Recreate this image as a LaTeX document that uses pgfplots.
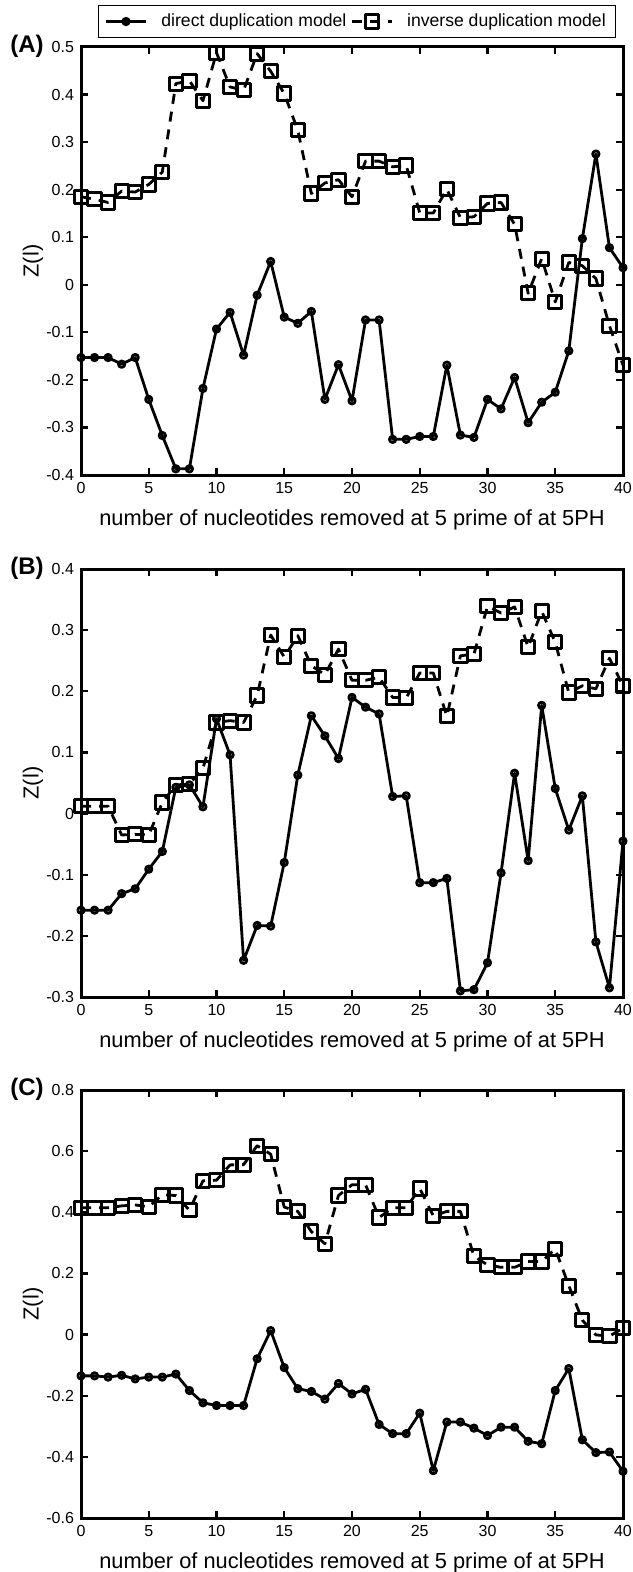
\documentclass[border=0pt]{standalone}
\usepackage{fontspec}
\setmainfont{Liberation Sans}
\usepackage{pgfplots}
\usepackage{pgfplotstable}
\pgfplotsset{compat=1.18}

% panel A
\pgfplotstableread{
x d i
0 -0.153 0.185
1 -0.153 0.180
2 -0.153 0.173
3 -0.167 0.197
4 -0.153 0.195
5 -0.241 0.211
6 -0.317 0.237
7 -0.387 0.423
8 -0.387 0.429
9 -0.218 0.387
10 -0.093 0.488
11 -0.058 0.416
12 -0.148 0.409
13 -0.022 0.486
14 0.049 0.449
15 -0.068 0.402
16 -0.081 0.325
17 -0.056 0.192
18 -0.241 0.214
19 -0.168 0.221
20 -0.244 0.185
21 -0.074 0.260
22 -0.074 0.260
23 -0.325 0.248
24 -0.325 0.251
25 -0.319 0.151
26 -0.319 0.151
27 -0.169 0.201
28 -0.316 0.141
29 -0.321 0.143
30 -0.241 0.171
31 -0.261 0.173
32 -0.195 0.127
33 -0.290 -0.018
34 -0.247 0.055
35 -0.226 -0.036
36 -0.139 0.047
37 0.097 0.040
38 0.275 0.013
39 0.078 -0.086
40 0.036 -0.169
}\tabA

% panel B
\pgfplotstableread{
x d i
0 -0.158 0.012
1 -0.158 0.012
2 -0.158 0.012
3 -0.131 -0.035
4 -0.123 -0.034
5 -0.091 -0.035
6 -0.062 0.018
7 0.043 0.047
8 0.047 0.048
9 0.011 0.074
10 0.155 0.149
11 0.096 0.152
12 -0.240 0.149
13 -0.183 0.193
14 -0.184 0.292
15 -0.080 0.256
16 0.063 0.291
17 0.160 0.242
18 0.127 0.227
19 0.090 0.269
20 0.190 0.218
21 0.174 0.218
22 0.163 0.223
23 0.028 0.190
24 0.029 0.189
25 -0.113 0.230
26 -0.113 0.230
27 -0.106 0.159
28 -0.290 0.258
29 -0.288 0.261
30 -0.244 0.339
31 -0.097 0.328
32 0.066 0.338
33 -0.077 0.272
34 0.177 0.331
35 0.041 0.280
36 -0.027 0.198
37 0.029 0.209
38 -0.210 0.204
39 -0.285 0.254
40 -0.045 0.209
}\tabB

% panel C
\pgfplotstableread{
x d i
0 -0.135 0.415
1 -0.135 0.415
2 -0.139 0.415
3 -0.133 0.421
4 -0.145 0.424
5 -0.139 0.418
6 -0.139 0.457
7 -0.129 0.455
8 -0.183 0.407
9 -0.223 0.503
10 -0.232 0.505
11 -0.232 0.555
12 -0.232 0.556
13 -0.079 0.618
14 0.013 0.590
15 -0.108 0.417
16 -0.177 0.403
17 -0.186 0.337
18 -0.211 0.297
19 -0.160 0.455
20 -0.194 0.490
21 -0.179 0.490
22 -0.294 0.383
23 -0.324 0.415
24 -0.324 0.415
25 -0.257 0.478
26 -0.445 0.388
27 -0.286 0.403
28 -0.286 0.403
29 -0.306 0.256
30 -0.330 0.228
31 -0.303 0.220
32 -0.303 0.220
33 -0.349 0.239
34 -0.357 0.239
35 -0.183 0.280
36 -0.111 0.160
37 -0.344 0.047
38 -0.386 -0.001
39 -0.384 -0.005
40 -0.447 0.021
}\tabC

\pgfplotsset{
  panel/.style={
    scale only axis, width=271pt, height=214pt, anchor=north west,
    xmin=0, xmax=40, xtick={0,5,...,40},
    tick align=inside, major tick length=3.3pt,
    every tick/.style={black, line width=1.1pt},
    axis line style={line width=1.5pt},
    tick label style={font=\fontsize{8}{9.6}\selectfont},
    /pgf/number format/assume math mode=true,
    label style={font=\fontsize{10.9}{13}\selectfont},
    xlabel={number of nucleotides removed at 5 prime of at 5PH},
    ylabel={Z(l)},
    xlabel style={at={(axis description cs:0.5,-0.1051)}, anchor=center},
    ylabel style={at={(axis description cs:-0.0886,0.5)}, anchor=center},
    legend image code/.code={\draw[mark repeat=2,mark phase=2,##1] plot coordinates {(0pt,0pt) (10pt,0pt) (20pt,0pt)};},
  },
  direct/.style={black, line width=1.4pt, line join=round, mark=o, mark size=1.6pt, mark options={solid, line width=1.4pt}},
  inverse/.style={black, line width=1.4pt, line join=round, dash pattern=on 5pt off 4pt, mark=square, mark size=3.3pt, mark options={solid, line width=1.5pt}},
}

\begin{document}
\begin{tikzpicture}
\useasboundingbox (0,0) rectangle (316pt,-786pt);

\begin{axis}[panel, at={(40.5pt,-23.5pt)},
    ymin=-0.4, ymax=0.5, ytick={-0.4,-0.3,-0.2,-0.1,0,0.1,0.2,0.3,0.4,0.5},
    legend columns=2,
    legend style={at={(axis description cs:0.0314,1)}, anchor=south west, yshift=4.5pt,
      draw=black, line width=0.6pt, font=\fontsize{8.8}{10}\selectfont,
      /tikz/every odd column/.append style={column sep=5pt}},
]
\addplot[direct] table[x=x, y=d] {\tabA};
\addplot[inverse] table[x=x, y=i] {\tabA};
\legend{direct duplication model, inverse duplication model}
\end{axis}

\begin{axis}[panel, at={(40.5pt,-284.5pt)},
    ymin=-0.3, ymax=0.4, ytick={-0.3,-0.2,-0.1,0,0.1,0.2,0.3,0.4},
]
\addplot[direct] table[x=x, y=d] {\tabB};
\addplot[inverse] table[x=x, y=i] {\tabB};
\end{axis}

\begin{axis}[panel, at={(40.5pt,-545pt)},
    ymin=-0.6, ymax=0.8, ytick={-0.6,-0.4,-0.2,0,0.2,0.4,0.6,0.8},
]
\addplot[direct] table[x=x, y=d] {\tabC};
\addplot[inverse] table[x=x, y=i] {\tabC};
\end{axis}

\begin{scope}[every node/.style={anchor=base west, inner sep=0pt, font=\bfseries\fontsize{12}{14}\selectfont}]
\node at (5pt,-26.3pt) {(A)};
\node at (5pt,-287.3pt) {(B)};
\node at (5pt,-547.8pt) {(C)};
\end{scope}
\end{tikzpicture}
\end{document}
